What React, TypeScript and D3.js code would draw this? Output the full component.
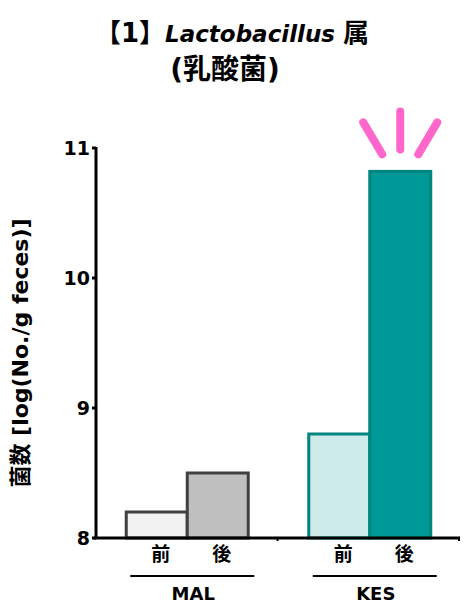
import * as React from 'react';
import * as d3 from 'd3';

const groups = ['MAL', 'KES'];
const phases = ['前', '後'];
const values = [
    [8.2, 8.5],
    [8.8, 10.82],
];
const yTicks = [8, 9, 10, 11];

const fills = [['#f2f2f2', '#bfbfbf'], ['#cdebea', '#009999']];
const strokes = ['#404040', '#00857f'];

const width = 472;
const height = 612;
const font = '"DejaVu Sans", "Noto Sans CJK JP", sans-serif';

export default function App() {
    const y = d3.scaleLinear().domain([8, 11]).range([538, 148]);
    const xGroup = d3.scaleBand<string>().domain(groups).range([95, 460]).paddingInner(0).paddingOuter(0);
    const xPhase = d3.scaleBand<string>().domain(phases).range([0, 122]);
    const groupOffset = (g: string) => xGroup(g)! + (xGroup.bandwidth() - 122) / 2 + 1;

    const kesTop = y(values[1][1]);
    const kesCx = groupOffset('KES') + xPhase('後')! + xPhase.bandwidth() / 2;

    return (
        <svg width={width} height={height} style={{position: 'absolute', left: 0, top: 0}} fontFamily={font}>
            <rect width={width} height={height} fill='white' />
            <text x={232} y={42} textAnchor='middle' fontSize={23} fontWeight='bold'>
                <tspan fontSize={26}>【1】</tspan><tspan fontStyle='italic'>Lactobacillus</tspan> <tspan fontSize={26}>属</tspan>
            </text>
            <text x={225} y={79} textAnchor='middle' fontSize={28} fontWeight='bold'>(乳酸菌)</text>

            <text transform='translate(28,353) rotate(-90)' textAnchor='middle' fontSize={22} fontWeight='bold'>
                菌数 [log(No./g feces)]
            </text>

            {groups.map((g, gi) => phases.map((p, pi) => (
                <rect key={g + p}
                    x={groupOffset(g) + xPhase(p)!}
                    y={y(values[gi][pi])}
                    width={xPhase.bandwidth()}
                    height={y(8) - y(values[gi][pi])}
                    fill={fills[gi][pi]}
                    stroke={strokes[gi]}
                    strokeWidth={3} />
            )))}

            <g stroke='#ff66cc' strokeWidth={8} strokeLinecap='round'>
                <line x1={kesCx - 37} y1={kesTop - 49} x2={kesCx - 18} y2={kesTop - 17} />
                <line x1={kesCx} y1={kesTop - 60} x2={kesCx} y2={kesTop - 22} />
                <line x1={kesCx + 37} y1={kesTop - 49} x2={kesCx + 18} y2={kesTop - 17} />
            </g>

            <g className='y-axis'>
                <line stroke='black' strokeWidth={3} x1={96} x2={96} y1={y(11) - 1} y2={y(8)} />
                {yTicks.map((t) => (
                    <g key={t} transform={`translate(96,${y(t)})`}>
                        <line stroke='black' strokeWidth={3} x1={-4} x2={0} y1={0} y2={0} />
                        <text x={-6} y={7} textAnchor='end' fontSize={19} fontWeight='bold'>{t}</text>
                    </g>
                ))}
            </g>

            <g className='x-axis'>
                <line stroke='black' strokeWidth={3} x1={94} x2={460} y1={y(8)} y2={y(8)} />
                <line stroke='black' strokeWidth={2} x1={xGroup('KES')!} x2={xGroup('KES')!} y1={y(8)} y2={y(8) + 3} />
                <line stroke='black' strokeWidth={2} x1={459} x2={459} y1={y(8)} y2={y(8) + 3} />
                {groups.map((g) => (
                    <g key={g}>
                        {phases.map((p) => (
                            <text key={p}
                                x={groupOffset(g) + xPhase(p)! + xPhase.bandwidth() / 2 + 4}
                                y={561} textAnchor='middle' fontSize={19} fontWeight='bold'>{p}</text>
                        ))}
                        <line stroke='black' strokeWidth={2}
                            x1={groupOffset(g) + 4} x2={groupOffset(g) + 128} y1={576} y2={576} />
                        <text x={groupOffset(g) + 67} y={600} textAnchor='middle' fontSize={18} fontWeight='bold'>{g}</text>
                    </g>
                ))}
            </g>
        </svg>
    );
}
